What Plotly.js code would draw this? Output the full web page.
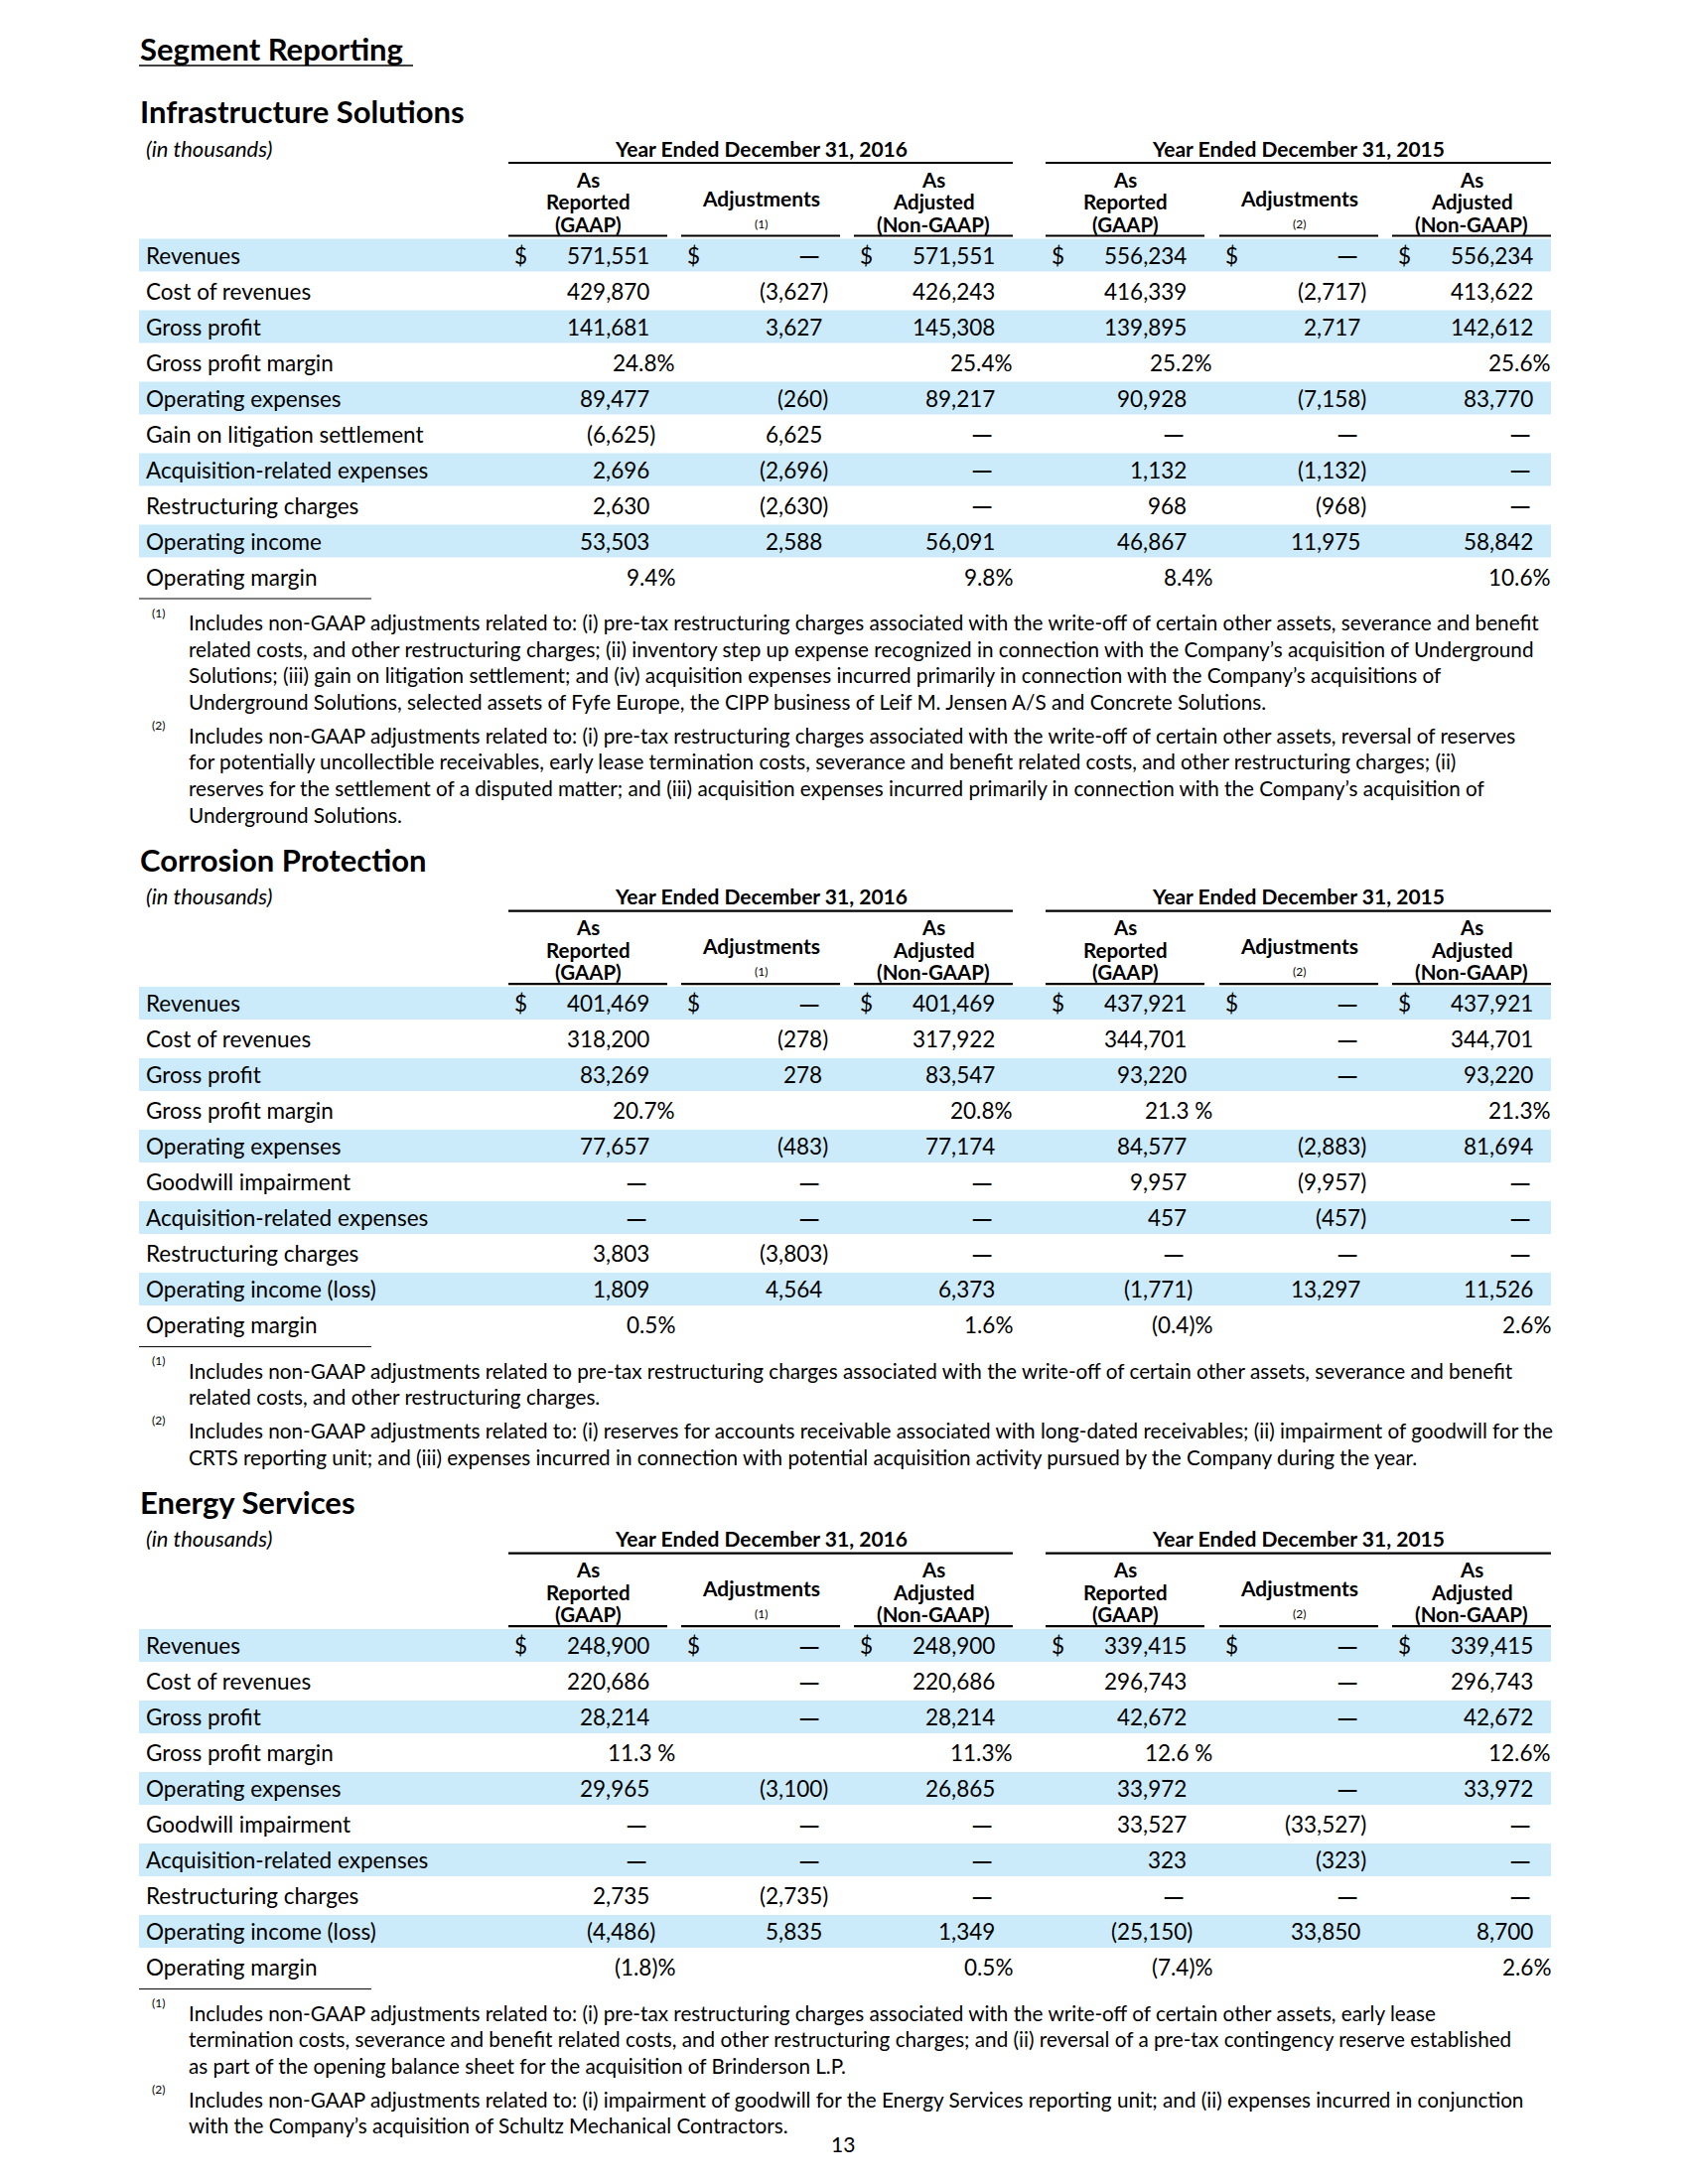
<!DOCTYPE html>
<html><head><meta charset="utf-8">
<script src="https://cdn.plot.ly/plotly-3.0.1.min.js"></script>
<style>html,body{margin:0;padding:0;background:#fff}</style>
</head><body>
<div id="chart" style="width:1700px;height:2200px"></div>
<script>
// ---------------- DATA ----------------
const pageTitle = "Segment Reporting";
const unitsLabel = "(in thousands)";
const periodLabels = ["Year Ended December 31, 2016", "Year Ended December 31, 2015"];
const columnHeaders = [["As", "Reported", "(GAAP)"], ["Adjustments"], ["As", "Adjusted", "(Non-GAAP)"]];
const adjustmentNoteRefs = ["(1)", "(2)"];
const noteMarkers = ["(1)", "(2)"];
const pageNumber = "13";

// Infrastructure Solutions
const isTitle = "Infrastructure Solutions";
const isRows = ["Revenues", "Cost of revenues", "Gross profit", "Gross profit margin", "Operating expenses",
  "Gain on litigation settlement", "Acquisition-related expenses", "Restructuring charges", "Operating income", "Operating margin"];
const is2016Reported = [571551, 429870, 141681, "24.8%", 89477, -6625, 2696, 2630, 53503, "9.4%"];
const is2016Adjust   = [null, -3627, 3627, "", -260, 6625, -2696, -2630, 2588, ""];
const is2016Adjusted = [571551, 426243, 145308, "25.4%", 89217, null, null, null, 56091, "9.8%"];
const is2015Reported = [556234, 416339, 139895, "25.2%", 90928, null, 1132, 968, 46867, "8.4%"];
const is2015Adjust   = [null, -2717, 2717, "", -7158, null, -1132, -968, 11975, ""];
const is2015Adjusted = [556234, 413622, 142612, "25.6%", 83770, null, null, null, 58842, "10.6%"];
const isNote1 = [
  "Includes non-GAAP adjustments related to: (i) pre-tax restructuring charges associated with the write-off of certain other assets, severance and benefit",
  "related costs, and other restructuring charges; (ii) inventory step up expense recognized in connection with the Company’s acquisition of Underground",
  "Solutions; (iii) gain on litigation settlement; and (iv) acquisition expenses incurred primarily in connection with the Company’s acquisitions of",
  "Underground Solutions, selected assets of Fyfe Europe, the CIPP business of Leif M. Jensen A/S and Concrete Solutions."];
const isNote2 = [
  "Includes non-GAAP adjustments related to: (i) pre-tax restructuring charges associated with the write-off of certain other assets, reversal of reserves",
  "for potentially uncollectible receivables, early lease termination costs, severance and benefit related costs, and other restructuring charges; (ii)",
  "reserves for the settlement of a disputed matter; and (iii) acquisition expenses incurred primarily in connection with the Company’s acquisition of",
  "Underground Solutions."];

// Corrosion Protection
const cpTitle = "Corrosion Protection";
const cpRows = ["Revenues", "Cost of revenues", "Gross profit", "Gross profit margin", "Operating expenses",
  "Goodwill impairment", "Acquisition-related expenses", "Restructuring charges", "Operating income (loss)", "Operating margin"];
const cp2016Reported = [401469, 318200, 83269, "20.7%", 77657, null, null, 3803, 1809, "0.5%"];
const cp2016Adjust   = [null, -278, 278, "", -483, null, null, -3803, 4564, ""];
const cp2016Adjusted = [401469, 317922, 83547, "20.8%", 77174, null, null, null, 6373, "1.6%"];
const cp2015Reported = [437921, 344701, 93220, "21.3 %", 84577, 9957, 457, null, -1771, "(0.4)%"];
const cp2015Adjust   = [null, null, null, "", -2883, -9957, -457, null, 13297, ""];
const cp2015Adjusted = [437921, 344701, 93220, "21.3%", 81694, null, null, null, 11526, "2.6%"];
const cpNote1 = [
  "Includes non-GAAP adjustments related to pre-tax restructuring charges associated with the write-off of certain other assets, severance and benefit",
  "related costs, and other restructuring charges."];
const cpNote2 = [
  "Includes non-GAAP adjustments related to: (i) reserves for accounts receivable associated with long-dated receivables; (ii) impairment of goodwill for the",
  "CRTS reporting unit; and (iii) expenses incurred in connection with potential acquisition activity pursued by the Company during the year."];

// Energy Services
const esTitle = "Energy Services";
const esRows = ["Revenues", "Cost of revenues", "Gross profit", "Gross profit margin", "Operating expenses",
  "Goodwill impairment", "Acquisition-related expenses", "Restructuring charges", "Operating income (loss)", "Operating margin"];
const es2016Reported = [248900, 220686, 28214, "11.3 %", 29965, null, null, 2735, -4486, "(1.8)%"];
const es2016Adjust   = [null, null, null, "", -3100, null, null, -2735, 5835, ""];
const es2016Adjusted = [248900, 220686, 28214, "11.3%", 26865, null, null, null, 1349, "0.5%"];
const es2015Reported = [339415, 296743, 42672, "12.6 %", 33972, 33527, 323, null, -25150, "(7.4)%"];
const es2015Adjust   = [null, null, null, "", null, -33527, -323, null, 33850, ""];
const es2015Adjusted = [339415, 296743, 42672, "12.6%", 33972, null, null, null, 8700, "2.6%"];
const esNote1 = [
  "Includes non-GAAP adjustments related to: (i) pre-tax restructuring charges associated with the write-off of certain other assets, early lease",
  "termination costs, severance and benefit related costs, and other restructuring charges; and (ii) reversal of a pre-tax contingency reserve established",
  "as part of the opening balance sheet for the acquisition of Brinderson L.P."];
const esNote2 = [
  "Includes non-GAAP adjustments related to: (i) impairment of goodwill for the Energy Services reporting unit; and (ii) expenses incurred in conjunction",
  "with the Company’s acquisition of Schultz Mechanical Contractors."];

const sections = [
  {title: isTitle, rows: isRows, cols: [is2016Reported, is2016Adjust, is2016Adjusted, is2015Reported, is2015Adjust, is2015Adjusted], notes: [isNote1, isNote2]},
  {title: cpTitle, rows: cpRows, cols: [cp2016Reported, cp2016Adjust, cp2016Adjusted, cp2015Reported, cp2015Adjust, cp2015Adjusted], notes: [cpNote1, cpNote2]},
  {title: esTitle, rows: esRows, cols: [es2016Reported, es2016Adjust, es2016Adjusted, es2015Reported, es2015Adjust, es2015Adjusted], notes: [esNote1, esNote2]}
];

// ---------------- LAYOUT / STYLE ----------------
const FONT = "Lato, 'Open Sans', sans-serif";
const INK = "#000000";
const BAND = "#ccebfa";
const G = {
  left: 140, right: 1562, labelX: 146,
  colStarts: [512, 686, 860, 1053, 1228, 1402], colW: 160,
  firstTitleY: 112, rowOffset: 145, rowPitch: 36, bandH: 33,
  noteOffset: 515, notePitch: 26.65, noteGap: 33.7, sectionGap: 45,
  bodySize: 22.5, headSize: 20.5, titleSize: 31, noteSize: 20.7,
  dashSize: 28,
  headLines: [68.5, 91, 113.5], adjLine: 87, adjRef: 113,
  pctShift: [9, 2, 1]
};
const HIDDEN_PAREN = '<span style="color:rgba(0,0,0,0)">)</span>';
const DASH = "—";

function fmt(v) {
  if (v === null) return DASH;
  if (typeof v === "string") return v;
  const s = Math.abs(v).toLocaleString("en-US");
  return v < 0 ? "(" + s + ")" : s;
}

const annotations = [];
const shapes = [];
function txt(x, y, text, opts) {
  annotations.push(Object.assign({
    x: x, y: y, xref: "x", yref: "y", text: text, showarrow: false,
    xanchor: "left", yanchor: "middle", borderpad: 0,
    font: {family: FONT, size: G.bodySize, color: INK}
  }, opts || {}));
}
function hline(x0, x1, y, w) {
  shapes.push({type: "line", xref: "x", yref: "y", x0: x0, x1: x1, y0: y, y1: y, line: {color: INK, width: w}});
}

// page title
txt(G.left, 49, "<b>" + pageTitle + "</b>", {font: {family: FONT, size: 31, color: INK}});
hline(G.left, 416, 66, 1.6);

let T = G.firstTitleY;
sections.forEach((sec) => {
  txt(G.left, T, "<b>" + sec.title + "</b>", {font: {family: FONT, size: G.titleSize, color: INK}});
  txt(G.labelX, T + 37, "<i>" + unitsLabel + "</i>", {font: {family: FONT, size: 22, color: INK}});
  // period groups
  periodLabels.forEach((p, k) => {
    const x0 = G.colStarts[3 * k], x1 = G.colStarts[3 * k + 2] + G.colW;
    txt((x0 + x1) / 2, T + 37, "<b>" + p + "</b>", {xanchor: "center", font: {family: FONT, size: 21, color: INK}});
    hline(x0, x1, T + 52, 2.2);
  });
  // column headers
  G.colStarts.forEach((cx, c) => {
    const g = c % 3, mid = cx + G.colW / 2;
    const hdr = columnHeaders[g];
    const hf = {family: FONT, size: G.headSize, color: INK};
    if (hdr.length === 3) {
      G.headLines.forEach((dy, j) => txt(mid, T + dy, "<b>" + hdr[j] + "</b>", {xanchor: "center", font: hf}));
    } else {
      txt(mid, T + G.adjLine, "<b>" + hdr[0] + "</b>", {xanchor: "center", font: {family: FONT, size: 21, color: INK}});
      txt(mid, T + G.adjRef, adjustmentNoteRefs[Math.floor(c / 3)], {xanchor: "center", font: {family: FONT, size: 12, color: INK}});
    }
    hline(cx, cx + G.colW, T + 125.5, 2.2);
  });
  // rows
  sec.rows.forEach((label, i) => {
    const y = T + G.rowOffset + i * G.rowPitch;
    if (i % 2 === 0) {
      shapes.push({type: "rect", xref: "x", yref: "y", x0: G.left, x1: G.right,
        y0: y - G.bandH / 2, y1: y + G.bandH / 2, fillcolor: BAND, line: {width: 0}, layer: "below"});
    }
    txt(G.labelX, y, label);
    sec.cols.forEach((col, c) => {
      const v = col[i];
      const colEnd = G.colStarts[c] + G.colW;
      if (i === 0) txt(G.colStarts[c] + 5, y, "$");
      if (v === "") return;
      if (typeof v === "string") {
        txt(colEnd + G.pctShift[c % 3], y, v, {xanchor: "right"});
      } else if (v === null) {
        // em dash drawn in its own text so its size does not move the row baseline
        txt(colEnd - 19, y, fmt(v), {xanchor: "right", font: {family: FONT, size: G.dashSize, color: INK}});
      } else {
        const t = fmt(v) + (v < 0 ? "" : HIDDEN_PAREN);
        txt(colEnd - 11, y, t, {xanchor: "right"});
      }
    });
  });
  const lastRowY = T + G.rowOffset + (sec.rows.length - 1) * G.rowPitch;
  hline(G.left, 374, lastRowY + 22, 1);
  // notes
  let ny = T + G.noteOffset;
  sec.notes.forEach((lines, n) => {
    txt(152, ny - 10, noteMarkers[n], {font: {family: FONT, size: 12, color: INK}});
    lines.forEach((ln, j) => {
      txt(189, ny + j * G.notePitch, ln, {font: {family: FONT, size: G.noteSize, color: INK}});
    });
    ny += (lines.length - 1) * G.notePitch + G.noteGap;
  });
  T = ny - G.noteGap + G.sectionGap;
});

txt(849, 2159, pageNumber, {xanchor: "center", font: {family: FONT, size: 21, color: INK}});

const layout = {
  width: 1700, height: 2200,
  margin: {l: 0, r: 0, t: 0, b: 0, pad: 0},
  paper_bgcolor: "#ffffff", plot_bgcolor: "#ffffff",
  showlegend: false,
  xaxis: {range: [0, 1700], visible: false, fixedrange: true},
  yaxis: {range: [2200, 0], visible: false, fixedrange: true},
  annotations: annotations, shapes: shapes
};
Plotly.newPlot("chart", [{type: "scatter", x: [], y: [], hoverinfo: "skip"}], layout, {staticPlot: true, displayModeBar: false});
</script>
</body></html>
